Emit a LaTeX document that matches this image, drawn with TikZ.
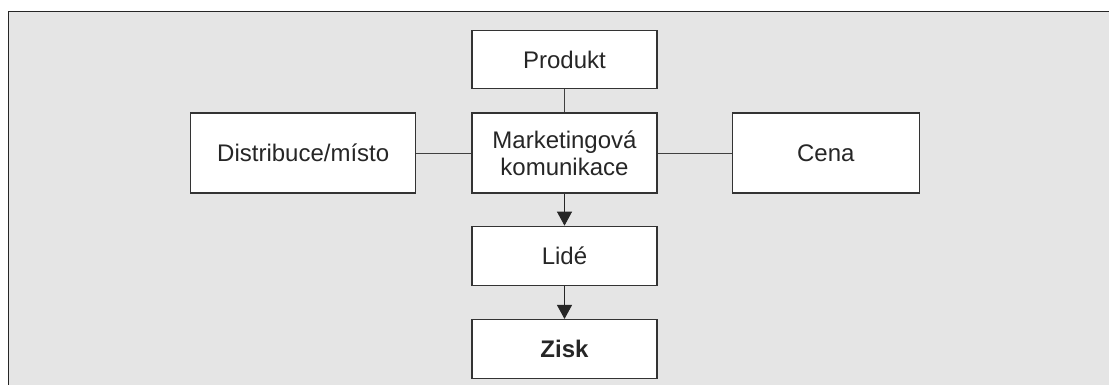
\documentclass[tikz,border=0pt]{standalone}
\usepackage{fontspec}
\setmainfont{Liberation Sans}
\usepackage{tikz}
\usetikzlibrary{positioning}
\usetikzlibrary{arrows.meta}
\tikzset{%
  link/.style = {draw=black!75,line width=0.9pt},
  flowarrow/.style = {link,-{Triangle[length=14pt,width=15pt]},
        draw=black!85},
  box/.style = {rectangle,draw=black!80,line width=1.3pt,fill=white,
        align=center,font=\fontsize{24}{27}\selectfont,text=black!85,
        minimum width=185pt,minimum height=59pt,inner sep=0pt}
}

\begin{document}
\begin{tikzpicture}[x=1pt,y=-1pt]
    \useasboundingbox (0,0) rectangle (1109,385);
    \fill[black!10] (8,12) rectangle (1109,385);
    \draw[black!85,line width=1pt] (1109,12) -- (8,12) -- (8,385);
    \node[box,minimum height=80pt] (mk) at (564.5,153)
        {Marketingová\\komunikace};
    \node[box,minimum height=58pt,above=23pt of mk] (prod) {Produkt};
    \node[box,minimum width=225pt,minimum height=80pt,left=55pt of mk] (dist)
        {Distribuce/místo};
    \node[box,minimum width=187pt,minimum height=80pt,right=74pt of mk] (cena)
        {Cena};
    \node[box,below=32pt of mk] (lide) {Lidé};
    \node[box,below=33pt of lide] (zisk) {\textbf{Zisk}};
    \draw[link] (prod) -- (mk);
    \draw[link] (dist) -- (mk);
    \draw[link] (mk) -- (cena);
    \draw[flowarrow] (mk) -- (lide);
    \draw[flowarrow] (lide) -- (zisk);
\end{tikzpicture}
\end{document}
